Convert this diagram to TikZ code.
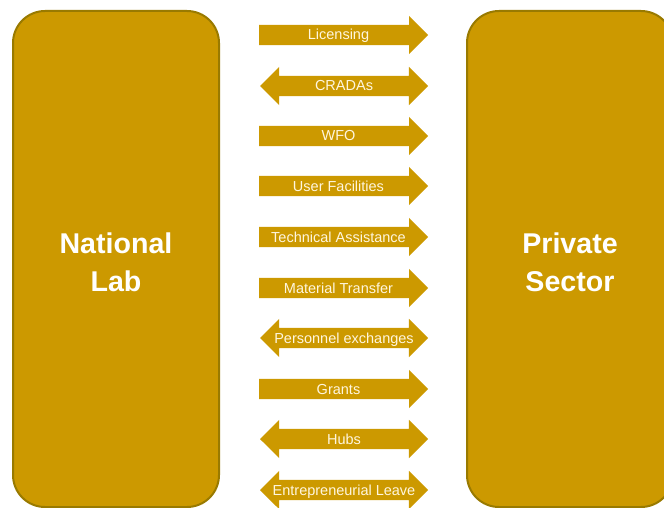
\documentclass[tikz,border=0pt]{standalone}
\usepackage{fontspec}
\setmainfont{Liberation Sans}
\usetikzlibrary{shapes.arrows}
\definecolor{gold}{HTML}{CC9900}
\definecolor{golddark}{HTML}{997A00}
\definecolor{cream}{HTML}{FFF6DE}
\tikzset{
  party/.style={draw=golddark, line width=2pt, fill=gold, rounded corners=32pt,
    minimum width=206pt, minimum height=496pt, inner sep=0pt, text=white,
    align=center, font=\fontsize{28.6}{38}\selectfont\bfseries},
  oneway/.style={single arrow, fill=gold, draw=none, inner xsep=0pt, inner ysep=10pt,
    minimum height=169pt, minimum width=38pt, single arrow head extend=9pt,
    anchor=tail},
  twoway/.style={double arrow, fill=gold, draw=none, inner xsep=0pt, inner ysep=10pt,
    minimum height=168pt, minimum width=38pt, double arrow head extend=9pt},
  tag/.style={text=cream, inner sep=0pt, anchor=base,
    font=\fontsize{14.5}{17}\selectfont}
}
\begin{document}
\begin{tikzpicture}[x=1pt,y=-1pt]
\useasboundingbox (0,0) rectangle (664,508);
% the two partners
\node[party] (lab) at (116,259) {};
\node[party] (firm) at (570,259) {};
\node[text=white, align=center, font=\fontsize{28.6}{38}\selectfont\bfseries]
  (labname) at (116,262) {National\\Lab};
\node[text=white, align=center, font=\fontsize{28.6}{38}\selectfont\bfseries]
  (firmname) at (570,262) {Private\\Sector};

% mechanisms linking them
\node[oneway] (a1) at (259,35) {};
\node[tag] (t1) at (338.5,40) {Licensing};
\node[twoway] (a2) at (344,86) {};
\node[tag] (t2) at (344,91) {CRADAs};
\node[oneway] (a3) at (259,136) {};
\node[tag] (t3) at (338.5,141) {WFO};
\node[oneway] (a4) at (259,186) {};
\node[tag] (t4) at (338.5,191) {User Facilities};
\node[oneway] (a5) at (259,237) {};
\node[tag] (t5) at (338.5,242) {Technical Assistance};
\node[oneway] (a6) at (259,288) {};
\node[tag] (t6) at (338.5,293) {Material Transfer};
\node[twoway] (a7) at (344,338) {};
\node[tag] (t7) at (344,343) {Personnel exchanges};
\node[oneway] (a8) at (259,389) {};
\node[tag] (t8) at (338.5,394) {Grants};
\node[twoway] (a9) at (344,439) {};
\node[tag] (t9) at (344,444) {Hubs};
\node[twoway] (a10) at (344,490) {};
\node[tag] (t10) at (344,495) {Entrepreneurial Leave};
\end{tikzpicture}
\end{document}
